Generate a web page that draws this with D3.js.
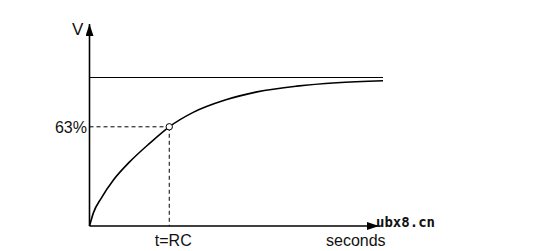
<!DOCTYPE html>
<html>
<head>
<meta charset="utf-8">
<script src="https://cdn.jsdelivr.net/npm/d3@7"></script>
<style>
  body { margin: 0; background: #fff; }
  text { font-family: "Liberation Sans", Arial, sans-serif; fill: #111; }
</style>
</head>
<body>
<div id="chart"></div>
<script>
// charging curve, time in units of RC, voltage as fraction of final value
var curveT = [0, 0.05, 0.15, 0.3, 0.5, 0.75, 1.0, 1.3, 1.7, 2.1, 2.6, 3.1, 3.68];
var curveV = [0, 0.09, 0.19, 0.31, 0.43, 0.555, 0.668, 0.765, 0.848, 0.903, 0.942, 0.965, 0.978];

var asymptoteV = 1.0;
var markerT = 1.0, markerV = 0.668;
var markerLabel = "63%", markerTimeLabel = "t=RC";
var yLabel = "V", xLabel = "seconds", watermark = "ubx8.cn";

var width = 555, height = 251;

var svg = d3.select("#chart")
  .append("svg")
    .attr("width", width)
    .attr("height", height);

// scales
var xScale = d3.scaleLinear()
    .domain([0, 3.68])
    .range([89.5, 383]);

var yScale = d3.scaleLinear()
    .domain([0, 1])
    .range([226, 77.5]);

// arrow heads
var defs = svg.append("defs");
defs.append("marker")
    .attr("id", "arrow")
    .attr("viewBox", "0 0 12 8")
    .attr("refX", 12).attr("refY", 4)
    .attr("markerWidth", 12).attr("markerHeight", 8)
    .attr("markerUnits", "userSpaceOnUse")
    .attr("orient", "auto")
  .append("path")
    .attr("d", "M0,0 L12,4 L0,8 Z")
    .attr("fill", "#000");

// axes (no ticks, just the lines)
var xAxis = d3.axisBottom(xScale).tickValues([]).tickSizeOuter(0);
var yAxis = d3.axisLeft(yScale).tickValues([]).tickSizeOuter(0);

svg.append("g").attr("transform", "translate(0," + yScale(0) + ")").call(xAxis);
svg.append("g").attr("transform", "translate(" + xScale(0) + ",0)").call(yAxis);
svg.selectAll(".domain").remove();

svg.append("line")
    .attr("x1", xScale(0)).attr("y1", yScale(0))
    .attr("x2", xScale(3.63)).attr("y2", yScale(0))
    .attr("stroke", "#000").attr("stroke-width", 1.6)
    .attr("marker-end", "url(#arrow)");

svg.append("line")
    .attr("x1", xScale(0)).attr("y1", yScale(0))
    .attr("x2", xScale(0)).attr("y2", yScale(1.36))
    .attr("stroke", "#000").attr("stroke-width", 1.6)
    .attr("marker-end", "url(#arrow)");

// final value line
svg.append("line")
    .attr("x1", xScale(0)).attr("y1", yScale(asymptoteV))
    .attr("x2", xScale(3.68)).attr("y2", yScale(asymptoteV))
    .attr("stroke", "#000").attr("stroke-width", 1.2);

// dashed guides
svg.append("line")
    .attr("x1", xScale(0)).attr("y1", yScale(markerV))
    .attr("x2", xScale(markerT)).attr("y2", yScale(markerV))
    .attr("stroke", "#000").attr("stroke-width", 1)
    .attr("stroke-dasharray", "4,3");

svg.append("line")
    .attr("x1", xScale(markerT)).attr("y1", yScale(markerV))
    .attr("x2", xScale(markerT)).attr("y2", yScale(0))
    .attr("stroke", "#000").attr("stroke-width", 1)
    .attr("stroke-dasharray", "4,3");

// the curve
var curveData = curveT.map((t, i) => ({t: t, v: curveV[i]}));
var line = d3.line()
    .x(d => xScale(d.t))
    .y(d => yScale(d.v))
    .curve(d3.curveMonotoneX);

svg.append("path")
    .datum(curveData)
    .attr("d", line)
    .attr("fill", "none")
    .attr("stroke", "#000")
    .attr("stroke-width", 1.6);

svg.append("circle")
    .attr("cx", xScale(markerT))
    .attr("cy", yScale(markerV))
    .attr("r", 3.2)
    .attr("fill", "#fff")
    .attr("stroke", "#000")
    .attr("stroke-width", 1);

// labels
svg.append("text")
    .attr("x", 72).attr("y", 35)
    .style("font-size", "17px")
    .text(yLabel);

svg.append("text")
    .attr("x", 87).attr("y", yScale(markerV) + 6)
    .attr("text-anchor", "end")
    .style("font-size", "16px")
    .text(markerLabel);

svg.append("text")
    .attr("x", xScale(markerT) + 4).attr("y", 246)
    .attr("text-anchor", "middle")
    .style("font-size", "16px")
    .text(markerTimeLabel);

svg.append("text")
    .attr("x", 326).attr("y", 246)
    .style("font-size", "16px")
    .text(xLabel);

svg.append("text")
    .attr("x", 376).attr("y", 226.5)
    .style("font-family", "'DejaVu Sans Mono', monospace")
    .style("font-weight", "bold")
    .style("font-size", "14px")
    .text(watermark);
</script>
</body>
</html>
